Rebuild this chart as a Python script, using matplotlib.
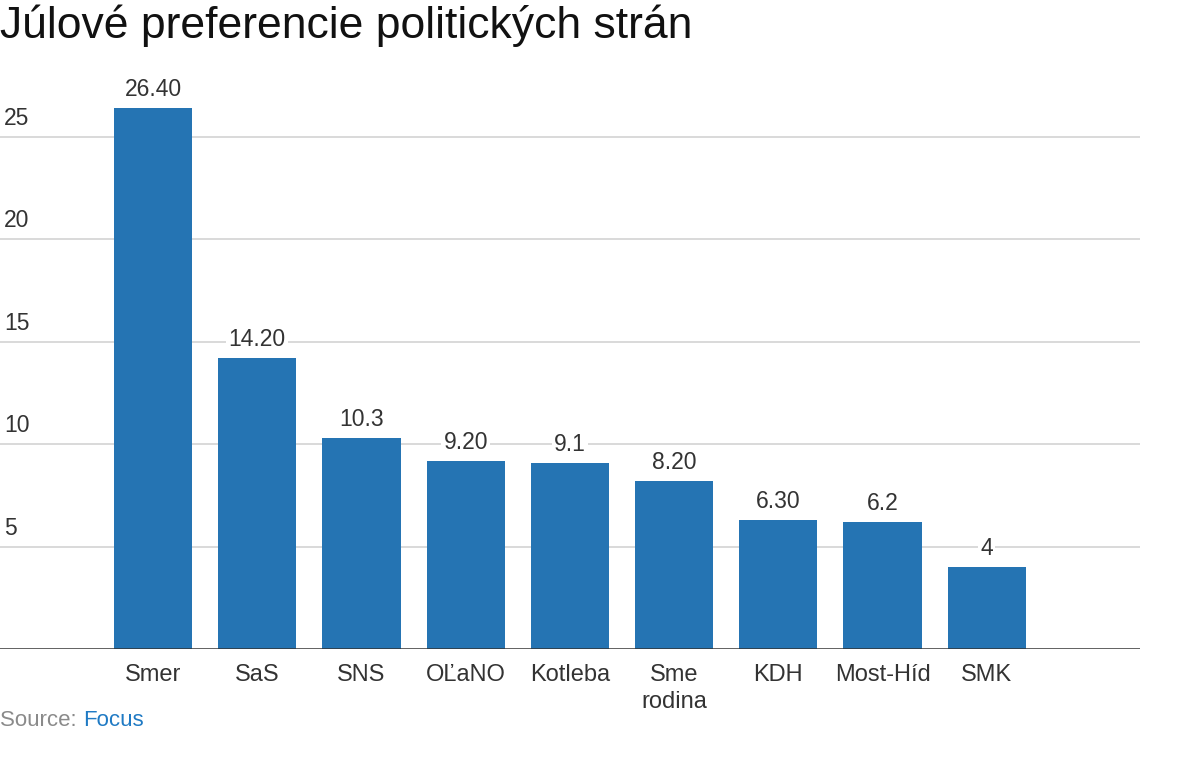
import matplotlib
matplotlib.use("Agg")
import matplotlib.pyplot as plt

plt.rcParams['font.family'] = ['Liberation Sans', 'DejaVu Sans']

categories = ["Smer", "SaS", "SNS", "OĽaNO", "Kotleba", "Sme\nrodina", "KDH", "Most-Híd", "SMK"]
values = [26.4, 14.2, 10.3, 9.2, 9.1, 8.2, 6.3, 6.2, 4.0]
value_labels = ["26.40", "14.20", "10.3", "9.20", "9.1", "8.20", "6.30", "6.2", "4"]
yticks = [5, 10, 15, 20, 25]
title = "Júlové preferencie politických strán"

bar_color = "#2574b3"
text_color = "#333333"

fig = plt.figure(figsize=(11.8, 7.8), dpi=100)
ax = fig.add_axes([0.0, 1 - 649/780, 1140/1180, (649 - 75.6)/780])

x = list(range(len(categories)))
ax.bar(x, values, width=0.75, color=bar_color, zorder=3)
ax.set_xlim(-1.468, 9.47)
ax.set_ylim(0, 28)

for t in yticks:
    ax.axhline(t, color="#d9d9d9", lw=1.4, zorder=1)
    ax.annotate(str(t), xy=(0, t), xycoords=('axes fraction', 'data'),
                xytext=(4, 7), textcoords='offset pixels', ha='left', va='bottom',
                fontsize=16.5, color=text_color)
ax.axhline(0, color="#333333", lw=1.8, zorder=4)

for xi, v, lab in zip(x, values, value_labels):
    ax.annotate(lab, xy=(xi, v), xytext=(0, 7), textcoords='offset pixels',
                ha='center', va='bottom', fontsize=16.5, color=text_color, zorder=5,
                bbox=dict(boxstyle='square,pad=0.1', fc='white', ec='none'))

for xi, c in zip(x, categories):
    ax.annotate(c, xy=(xi, 0), xytext=(0, -15), textcoords='offset pixels',
                ha='center', va='top', fontsize=17, color=text_color, linespacing=1.3)

for s in ax.spines.values():
    s.set_visible(False)
ax.set_xticks([])
ax.set_yticks([])
ax.patch.set_alpha(0)

fig.text(0.0, 1 - 26/780, title, fontsize=32, color="#111111", ha='left', va='center')
src = fig.text(0.0, 1 - 720/780, "Source: ", fontsize=16, color="#8a8a8a", ha='left', va='center')
fig.canvas.draw()
bb = src.get_window_extent()
fig.text(bb.x1 / fig.bbox.width, 1 - 720/780, "Focus", fontsize=16, color="#1f7ac4", ha='left', va='center')

fig.savefig("out.png", dpi=100)
